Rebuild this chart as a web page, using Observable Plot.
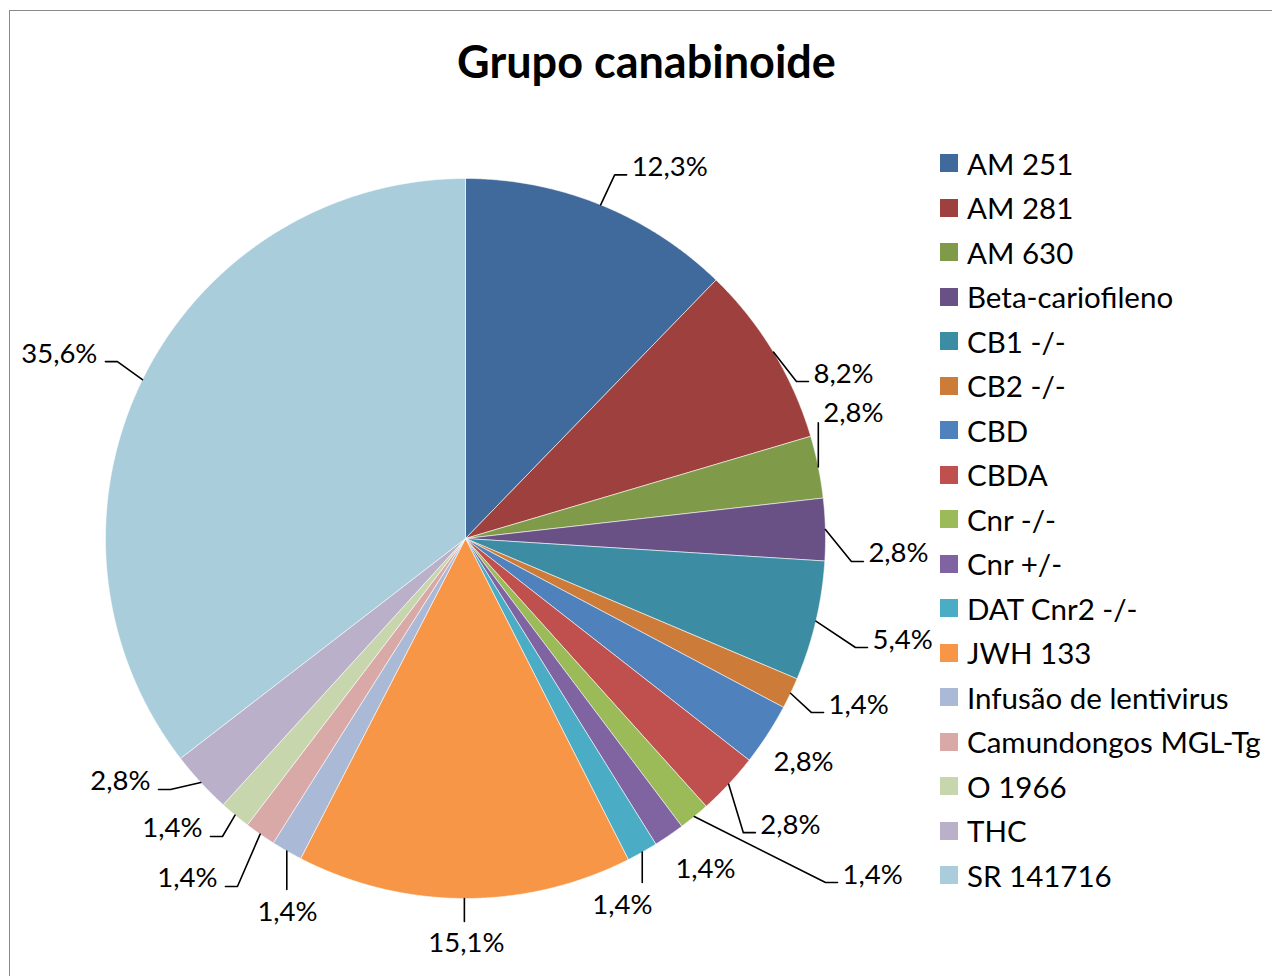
<!DOCTYPE html>
<html>
<head>
<meta charset="utf-8">
<script src="https://cdn.jsdelivr.net/npm/d3@7"></script>
<script src="https://cdn.jsdelivr.net/npm/@observablehq/plot@0.6"></script>
<style>
  html, body { margin: 0; padding: 0; background: #fff; overflow: hidden; }
  #chart { position: relative; width: 1272px; height: 976px; overflow: hidden; font-family: Lato, "Open Sans", sans-serif; }
  #frame { position: absolute; left: 9px; top: 10px; width: 1400px; height: 1100px; border: 1.5px solid #8a8a8a; }
  #plot { position: absolute; left: 0; top: 0; }
  #legend { position: absolute; left: 940px; top: 141.2px; }
  .row { display: flex; align-items: center; height: 44.5px; font-size: 29.5px; color: #000; white-space: nowrap; }
  .sw { width: 18px; height: 18px; margin-right: 9px; flex: none; }
</style>
</head>
<body>
<div id="chart">
  <div id="frame"></div>
  <div id="plot"></div>
  <div id="legend"></div>
</div>
<script>
// Groups of cannabinoid treatments and their share of the studies (%)
const categories = [
  "AM 251", "AM 281", "AM 630", "Beta-cariofileno", "CB1 -/-", "CB2 -/-",
  "CBD", "CBDA", "Cnr -/-", "Cnr +/-", "DAT Cnr2 -/-", "JWH 133",
  "Infusão de lentivirus", "Camundongos MGL-Tg", "O 1966", "THC", "SR 141716"
];
const shares = [12.3, 8.2, 2.8, 2.8, 5.4, 1.4, 2.8, 2.8, 1.4, 1.4, 1.4, 15.1, 1.4, 1.4, 1.4, 2.8, 35.6];
const palette = [
  "#3f6a9b", "#9e413e", "#7f9a48", "#695185", "#3c8da3", "#cc7b38",
  "#4f81bd", "#c0504d", "#9bbb59", "#8064a2", "#4bacc6", "#f79646",
  "#aab9d6", "#d9a9a8", "#c7d6ad", "#bab0c9", "#a9cddb"
];
const title = "Grupo canabinoide";

// Placement of each value label relative to its slice's rim point (px, y down)
// and the way its leader line runs.
const labelLayout = [
  {dx: 31, dy: -29, side: "right"},
  {dx: 40, dy: 30.5, side: "right"},
  {dx: 5, dy: -45, side: "up"},
  {dx: 43, dy: 33, side: "right"},
  {dx: 56.6, dy: 27.4, side: "right"},
  {dx: 38, dy: 20.3, side: "right"},
  {dx: 6, dy: 36, side: "none"},
  {dx: 31.7, dy: 49.5, side: "right"},
  {dx: 148.3, dy: 67, side: "right"},
  {dx: 6.4, dy: 43, side: "none"},
  {dx: 10.2, dy: 61.4, side: "down", anchor: "end"},
  {dx: 2, dy: 54, side: "down", anchor: "middle"},
  {dx: 0.7, dy: 69.5, side: "down", anchor: "middle"},
  {dx: -42.7, dy: 53.3, side: "left"},
  {dx: -32.6, dy: 22.4, side: "left"},
  {dx: -50.3, dy: 8, side: "left"},
  {dx: -45, dy: -17.1, side: "left"}
];

const R = 360; // pie radius in plot units (one unit = one pixel)
const fmt = v => v.toFixed(1).replace(".", ",") + "%";

const arcs = d3.pie().sort(null).value(d => d)(shares);
const polar = (a, r) => ({x: r * Math.sin(a), y: -r * Math.cos(a)});

// slice outlines: center -> arc -> center
const slicePts = [];
arcs.forEach((a, i) => {
  const name = categories[i];
  slicePts.push({name, x: 0, y: 0});
  const n = Math.max(4, Math.ceil((a.endAngle - a.startAngle) / (Math.PI / 720)));
  for (let k = 0; k <= n; k++) {
    const t = a.startAngle + (a.endAngle - a.startAngle) * k / n;
    slicePts.push({name, ...polar(t, R)});
  }
  slicePts.push({name, x: 0, y: 0});
});

// value labels and leader lines
const labels = [];
const leaders = [];
arcs.forEach((a, i) => {
  const mid = (a.startAngle + a.endAngle) / 2;
  const p = polar(mid, R);
  const L = labelLayout[i];
  const lx = p.x + L.dx, ly = p.y + L.dy;
  const anchor = L.anchor || (L.side === "left" ? "end" : "start");
  labels.push({x: lx, y: ly, text: fmt(shares[i]), anchor});
  let path = null;
  if (L.side === "right") path = [p, {x: lx - 17, y: ly - 1}, {x: lx - 5, y: ly - 1}];
  else if (L.side === "left") path = [p, {x: lx + 20, y: ly - 1}, {x: lx + 8, y: ly - 1}];
  else if (L.side === "up") path = [p, {x: p.x, y: ly + 1}];
  else if (L.side === "down") path = [p, {x: p.x, y: ly - 31}];
  if (path) path.forEach(q => leaders.push({id: i, x: q.x, y: q.y}));
});

const textMark = anchor => Plot.text(labels.filter(d => d.anchor === anchor), {
  x: "x", y: "y", text: "text", textAnchor: anchor, lineAnchor: "bottom",
  fontSize: 27.5, fill: "#000"
});

const chart = Plot.plot({
  width: 1272,
  height: 976,
  margin: 0,
  style: {fontFamily: "Lato, 'Open Sans', sans-serif", background: "transparent", overflow: "visible"},
  x: {domain: [-465, 807], range: [0, 1272], axis: null},
  y: {domain: [-538, 438], range: [0, 976], axis: null},
  color: {domain: categories, range: palette},
  marks: [
    Plot.line(slicePts, {x: "x", y: "y", z: "name", fill: "name", stroke: "#ffffff", strokeWidth: 0.8, strokeOpacity: 0.7, curve: "linear"}),
    Plot.line(leaders, {x: "x", y: "y", z: "id", stroke: "#000", strokeWidth: 1.6, curve: "linear"}),
    textMark("start"),
    textMark("end"),
    textMark("middle"),
    Plot.text([title], {frameAnchor: "top-left", dx: 646, dy: 77, text: d => d, textAnchor: "middle", lineAnchor: "bottom", fontSize: 45, fontWeight: "bold", fill: "#000"})
  ]
});
document.getElementById("plot").appendChild(chart);

// legend
const legend = d3.select("#legend");
categories.forEach((c, i) => {
  const row = legend.append("div").attr("class", "row");
  row.append("div").attr("class", "sw").style("background", palette[i]);
  row.append("span").text(c);
});
</script>
</body>
</html>
